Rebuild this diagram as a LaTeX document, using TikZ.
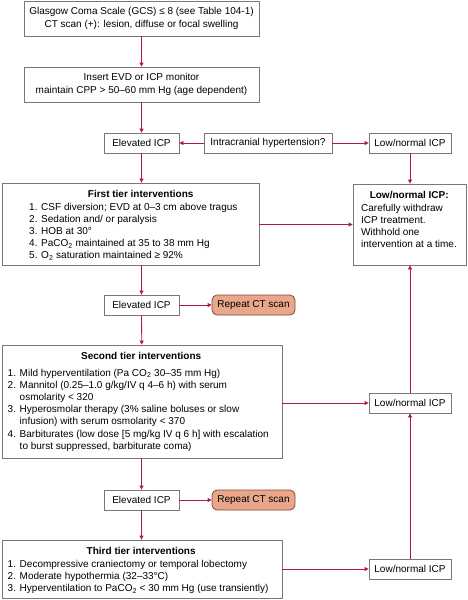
\documentclass[tikz,border=0pt]{standalone}
\usepackage{fontspec}
\setmainfont{Liberation Sans}
\usetikzlibrary{arrows.meta}
\definecolor{arr}{RGB}{176,24,72}
\definecolor{bord}{RGB}{120,120,120}
\definecolor{ctfill}{RGB}{232,166,138}
\definecolor{ctbord}{RGB}{140,70,55}
\begin{document}
\begin{tikzpicture}[x=1pt,y=-1pt,
  every node/.style={font=\fontsize{10}{12.2}\selectfont, inner sep=0pt},
  box/.style={draw=bord, line width=0.8pt, fill=white},
  small/.style={box, minimum height=20pt},
  txt/.style={align=left, anchor=north west},
  ctbox/.style={draw=ctbord, line width=0.8pt, fill=ctfill, rounded corners=5pt, minimum width=83pt, minimum height=20pt},
  conn/.style={draw=arr, line width=0.8pt, -{Triangle[width=4pt,length=4pt]}}]
\useasboundingbox (0,0) rectangle (467,600);
% top boxes
\node[box, minimum width=235pt, minimum height=35pt, align=center] (n1) at (141.5,18.5)
  {Glasgow Coma Scale (GCS) ≤ 8 (see Table 104-1)\\CT scan (+): lesion, diffuse or focal swelling};
\node[box, minimum width=235pt, minimum height=35pt, align=center] (n2) at (141.5,84.5)
  {Insert EVD or ICP monitor\\maintain CPP > 50–60 mm Hg (age dependent)};
% decision row
\node[small, minimum width=75pt] (e1) at (141.5,143) {Elevated ICP};
\node[small, minimum width=128pt] (q) at (268,143) {Intracranial hypertension?};
\node[small, minimum width=82pt] (l1) at (410,143) {Low/normal ICP};
% first tier
\node[box, minimum width=257pt, minimum height=82pt] (t1) at (130.5,224) {};
\node[txt] (t1txt) at (29,190.5)
  {\makebox[223pt][c]{\bfseries First tier interventions}\\
   1. CSF diversion; EVD at 0–3 cm above tragus\\
   2. Sedation and/ or paralysis\\
   3. HOB at 30°\\
   4. PaCO\textsubscript{2} maintained at 35 to 38 mm Hg\\
   5. O\textsubscript{2} saturation maintained ≥ 92\%};
% right box
\node[box, minimum width=113pt, minimum height=81pt] (lr) at (409.5,224.5) {};
\node[txt] (lrtxt) at (361,191.5)
  {\makebox[96pt][c]{\bfseries Low/normal ICP:}\\
   Carefully withdraw\\
   ICP treatment.\\
   Withhold one\\
   intervention at a time.};
% second tier
\node[small, minimum width=75pt] (e2) at (141.5,305) {Elevated ICP};
\node[ctbox] (r1) at (253.5,305) {Repeat CT scan};
\node[box, minimum width=280pt, minimum height=113pt] (t2) at (142,401.5) {};
\node[txt] (t2txt) at (7.5,352.5)
  {\makebox[267pt][c]{\bfseries Second tier interventions}\\[4pt]
   1. Mild hyperventilation (Pa CO\textsubscript{2} 30–35 mm Hg)\\
   2. Mannitol (0.25–1.0 g/kg/IV q 4–6 h) with serum\\
   \phantom{2. }osmolarity < 320\\
   3. Hyperosmolar therapy (3\% saline boluses or slow\\
   \phantom{3. }infusion) with serum osmolarity < 370\\
   4. Barbiturates (low dose [5 mg/kg IV q 6 h] with escalation\\
   \phantom{4. }to burst suppressed, barbiturate coma)};
\node[small, minimum width=82pt] (l2) at (410,403) {Low/normal ICP};
% third tier
\node[small, minimum width=75pt] (e3) at (141.5,500) {Elevated ICP};
\node[ctbox] (r2) at (253.5,500) {Repeat CT scan};
\node[box, minimum width=280pt, minimum height=58pt] (t3) at (142,569) {};
\node[txt] (t3txt) at (7.5,547.5)
  {\makebox[267pt][c]{\bfseries Third tier interventions}\\
   1. Decompressive craniectomy or temporal lobectomy\\
   2. Moderate hypothermia (32–33°C)\\
   3. Hyperventilation to PaCO\textsubscript{2} < 30 mm Hg (use transiently)};
\node[small, minimum width=82pt] (l3) at (410,569) {Low/normal ICP};
% connectors
\draw[conn] (n1) -- (n2);
\draw[conn] (n2) -- (e1);
\draw[conn] (q) -- (e1);
\draw[conn] (q) -- (l1);
\draw[conn] (e1.south) -- (e1.south |- t1.north);
\draw[conn] (l1.south) -- (l1.south |- lr.north);
\draw[conn] (t1.east |- lr.west) -- (lr.west);
\draw[conn] (e1.south |- t1.south) -- (e2.north);
\draw[conn] (e2) -- (r1);
\draw[conn] (e2) -- (t2);
\draw[conn] (t2.east |- l2.west) -- (l2.west);
\draw[conn] (l2.north) -- (l2.north |- lr.south);
\draw[conn] (e2.south |- t2.south) -- (e3.north);
\draw[conn] (e3) -- (r2);
\draw[conn] (e3) -- (e3.south |- t3.north);
\draw[conn] (t3.east |- l3.west) -- (l3.west);
\draw[conn] (l3) -- (l2);
\end{tikzpicture}
\end{document}
